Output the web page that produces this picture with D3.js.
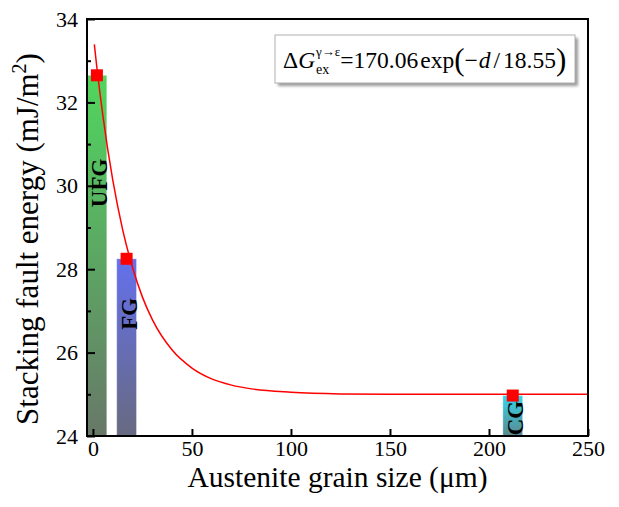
<!DOCTYPE html>
<html><head><meta charset="utf-8">
<script src="https://cdn.jsdelivr.net/npm/d3@7"></script>
<style>body{margin:0;background:#fff}svg{display:block}</style></head>
<body><svg id="c" width="619" height="507"></svg>
<script>
// ---- data ----
const categories = ["UFG", "FG", "CG"];
const grainSize = [2, 17, 212];          // µm (bar / marker centre)
const sfe = [32.65, 28.25, 24.97];       // mJ/m^2
const xTicks = [0, 50, 100, 150, 200, 250];
const yTicks = [24, 26, 28, 30, 32, 34];
const yMinorTicks = [25, 27, 29, 31, 33];
// fitted curve
const fitD   = [0.7, 2, 5, 10, 15, 20, 25, 30, 40, 50, 60, 70, 80, 100, 125, 150, 200, 250];
const fitSFE = [33.39, 32.83, 31.69, 30.14, 28.95, 28.04, 27.33, 26.79, 26.06, 25.63, 25.37, 25.22, 25.13, 25.05, 25.01, 25.0, 25.0, 25.0];
const topColors = ["#50d65e", "#6470ec", "#34d6ec"];
const bottomColors = ["#687868", "#686a80", "#5a8890"];

// ---- layout ----
const W = 619, H = 507;
const m = {left: 87, right: 31, top: 19, bottom: 71};
const svg = d3.select("#c");
const x = d3.scaleLinear().domain([-3, 250]).range([m.left, W - m.right]);
const y = d3.scaleLinear().domain([24, 34]).range([H - m.bottom, m.top]);
const FONT = "'Liberation Serif','Times New Roman',serif";
const barW = 10;

const defs = svg.append("defs");
categories.forEach((c, i) => {
  const g = defs.append("linearGradient").attr("id", "grad" + i)
    .attr("x1", 0).attr("y1", 0).attr("x2", 0).attr("y2", 1);
  g.append("stop").attr("offset", "0%").attr("stop-color", topColors[i]);
  g.append("stop").attr("offset", "100%").attr("stop-color", bottomColors[i]);
});
const blur = defs.append("filter").attr("id", "shadow").attr("x", "-10%").attr("y", "-10%").attr("width", "130%").attr("height", "140%");
blur.append("feGaussianBlur").attr("stdDeviation", 1.5);

// bars
svg.append("g").selectAll("rect").data(categories).join("rect")
  .attr("x", (d, i) => x(grainSize[i] - barW / 2))
  .attr("width", (d, i) => x(grainSize[i] + barW / 2) - x(grainSize[i] - barW / 2))
  .attr("y", (d, i) => y(sfe[i]))
  .attr("height", (d, i) => y(24) - y(sfe[i]))
  .attr("fill", (d, i) => `url(#grad${i})`)
  .attr("stroke", "rgba(255,255,255,0.35)").attr("stroke-width", 1);

// bar labels
const labelSFE = [30.07, 26.93, 24.43];
svg.append("g").selectAll("text").data(categories).join("text")
  .attr("transform", (d, i) => `translate(${x(grainSize[i]) + 10},${y(labelSFE[i])}) rotate(-90)`)
  .attr("text-anchor", "middle")
  .attr("font-family", FONT).attr("font-weight", "bold").attr("font-size", 23)
  .attr("fill", "#000").text(d => d);

// fit curve
const line = d3.line().x(d => x(d[0])).y(d => y(d[1])).curve(d3.curveMonotoneX);
svg.append("path").datum(fitD.map((d, i) => [d, fitSFE[i]]))
  .attr("d", line).attr("fill", "none").attr("stroke", "#ff0000").attr("stroke-width", 1.5);

// markers
const ms = 12;
svg.append("g").selectAll("rect").data(categories).join("rect")
  .attr("x", (d, i) => x(grainSize[i]) - ms / 2)
  .attr("y", (d, i) => y(sfe[i]) - ms / 2)
  .attr("width", ms).attr("height", ms).attr("fill", "#ff0000");

// axes
const xAxis = svg.append("g").attr("transform", `translate(0,${H - m.bottom})`)
  .call(d3.axisBottom(x).tickValues(xTicks).tickSizeInner(-7).tickSizeOuter(0).tickPadding(4));
const yAxis = svg.append("g").attr("transform", `translate(${m.left},0)`)
  .call(d3.axisLeft(y).tickValues(yTicks).tickSizeInner(-8).tickSizeOuter(0).tickPadding(9));
svg.append("g").attr("transform", `translate(${m.left},0)`)
  .call(d3.axisLeft(y).tickValues(yMinorTicks).tickSizeInner(-4).tickSizeOuter(0).tickFormat(""))
  .call(g => g.select(".domain").remove());
[xAxis, yAxis].forEach(a => {
  a.select(".domain").remove();
  a.selectAll(".tick text").attr("font-family", FONT).attr("font-size", 22).attr("fill", "#000");
});
svg.selectAll(".tick line").attr("stroke", "#000").attr("stroke-width", 2);

// frame
svg.append("rect").attr("x", m.left).attr("y", m.top)
  .attr("width", W - m.left - m.right).attr("height", H - m.top - m.bottom)
  .attr("fill", "none").attr("stroke", "#000").attr("stroke-width", 2);

// axis titles
svg.append("text").attr("x", (m.left + W - m.right) / 2).attr("y", 487)
  .attr("text-anchor", "middle").attr("font-family", FONT).attr("font-size", 29.5)
  .text("Austenite grain size (\u03bcm)");
const yt = svg.append("text").attr("transform", `translate(38,239) rotate(-90)`)
  .attr("text-anchor", "middle").attr("font-family", FONT).attr("font-size", 31);
yt.append("tspan").text("Stacking fault energy (mJ/m");
yt.append("tspan").attr("font-size", 20).attr("dy", -12).text("2");
yt.append("tspan").attr("dy", 12).text(")");

// formula box
const bx = 275, by = 35, bw = 300, bh = 48;
svg.append("rect").attr("x", bx + 3).attr("y", by + 3).attr("width", bw).attr("height", bh)
  .attr("fill", "#9a9a9a").attr("filter", "url(#shadow)");
svg.append("rect").attr("x", bx).attr("y", by).attr("width", bw).attr("height", bh)
  .attr("fill", "#fff").attr("stroke", "#b0b0b0").attr("stroke-width", 1);

const fgp = svg.append("g");
let fx = 283; const fy = 68, fs = 23.5;
function piece(str, o = {}) {
  const t = fgp.append("text").attr("x", fx + (o.dx || 0)).attr("y", fy + (o.dy || 0))
    .attr("font-family", FONT).attr("font-size", o.size || fs)
    .attr("font-style", o.italic ? "italic" : "normal").text(str);
  const w = t.node().getComputedTextLength();
  if (!o.noAdvance) fx += w + (o.dx || 0) + (o.gap || 0);
  return w;
}
piece("\u0394");
piece("G", {italic: true, gap: 1});
const w1 = piece("\u03b3\u2192\u03b5", {size: 13, dy: -12, noAdvance: true});
const w2 = piece("ex", {size: 14, dy: 6, noAdvance: true});
fx += Math.max(w1, w2);
piece("=170.06", {gap: 2});
piece("exp");
piece("(", {size: 31, dy: 2});
piece("\u2212", {gap: 1});
piece("d", {italic: true, gap: 3});
piece("/", {gap: 3});
piece("18.55");
piece(")", {size: 31, dy: 2});
</script></body></html>
